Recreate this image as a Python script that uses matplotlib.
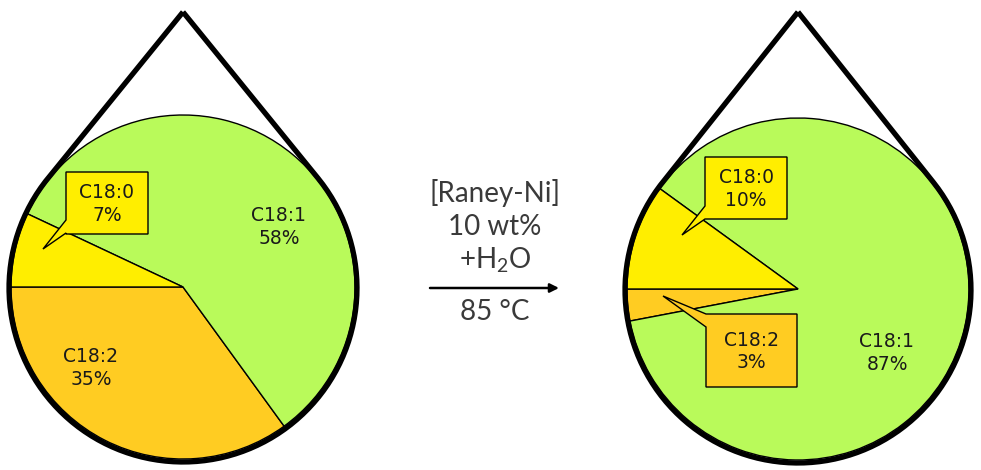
import numpy as np
import matplotlib.pyplot as plt
from matplotlib.patches import Polygon, PathPatch
from matplotlib.path import Path

# pie data (drawn from 180 deg, counter-clockwise)
fatty_acids = ['C18:2', 'C18:1', 'C18:0']
before_pct = [35, 58, 7]
after_pct = [3, 87, 10]
slice_colors = ['#FFCC22', '#B9FA5A', '#FFEE00']

# reaction conditions shown over/under the arrow
conditions_top = ['[Raney-Ni]', '10 wt%', '+H$_2$O']
conditions_bottom = '85 °C'

W, H = 981, 470

plt.rcParams['mathtext.fontset'] = 'custom'
plt.rcParams['mathtext.rm'] = 'Lato'
plt.rcParams['mathtext.it'] = 'Lato'
plt.rcParams['mathtext.default'] = 'rm'


def px(x, y):
    """pixel coords (y down) -> data coords (y up)"""
    return (x, H - y)


def droplet(ax, cx, cy, R, tip_y):
    c = np.array(px(cx, cy))
    tip = np.array(px(cx, tip_y))
    d = tip[1] - c[1]
    phi = np.degrees(np.arccos(R / d))
    ang = np.radians(np.linspace(90 + phi, 450 - phi, 200))
    pts = [tip] + [c + R * np.array([np.cos(a), np.sin(a)]) for a in ang] + [tip]
    ax.add_patch(PathPatch(Path(pts), fill=False, lw=3.8, ec='black',
                           joinstyle='miter', capstyle='butt', zorder=5))


def callout(ax, box, tail, color, text):
    x0, y0, x1, y1 = box
    tip, b_top, b_bot = tail
    verts = [px(x0, y0), px(x1, y0), px(x1, y1), px(x0, y1),
             px(x0, b_bot), px(*tip), px(x0, b_top)]
    ax.add_patch(Polygon(verts, closed=True, fc=color, ec='black', lw=1, zorder=6))
    ax.text(*px((x0 + x1) / 2, (y0 + y1) / 2 + 1), text, ha='center', va='center',
            fontsize=13.5, color='#1a1a1a', linespacing=1.25, zorder=7)


def pie_label(ax, x, y, text):
    ax.text(*px(x, y), text, ha='center', va='center', fontsize=13.5,
            color='#1a1a1a', linespacing=1.25, zorder=7)


fig = plt.figure(figsize=(W / 100, H / 100), dpi=100)
ax = fig.add_axes([0, 0, 1, 1])

wedge_style = dict(edgecolor='black', linewidth=1)
# left pie (before)
ax.pie(before_pct, colors=slice_colors, startangle=180, counterclock=True,
       center=px(183, 287), radius=172, wedgeprops=wedge_style)
# right pie (after)
ax.pie(after_pct, colors=slice_colors, startangle=180, counterclock=True,
       center=px(798, 289), radius=171, wedgeprops=wedge_style)

droplet(ax, 183, 288, 174, 12)
droplet(ax, 798, 290, 173, 12)

# labels, left
pie_label(ax, 279, 227, f'{fatty_acids[1]}\n{before_pct[1]}%')
pie_label(ax, 91, 368, f'{fatty_acids[0]}\n{before_pct[0]}%')
callout(ax, (66, 172, 148, 234), ((43, 249), 220, 233), slice_colors[2],
        f'{fatty_acids[2]}\n{before_pct[2]}%')

# labels, right
pie_label(ax, 887, 353, f'{fatty_acids[1]}\n{after_pct[1]}%')
callout(ax, (705, 157, 787, 219), ((682, 235), 206, 219), slice_colors[2],
        f'{fatty_acids[2]}\n{after_pct[2]}%')
callout(ax, (706, 314, 797, 387), ((663, 296), 314, 327), slice_colors[0],
        f'{fatty_acids[0]}\n{after_pct[0]}%')

# reaction arrow + conditions
for txt, y in zip(conditions_top, [193, 227, 260]):
    ax.text(*px(495, y), txt, ha='center', va='center', fontsize=20,
            family='Lato', color='#3a3a3a')
ax.annotate('', xy=px(559, 288), xytext=px(430, 288),
            arrowprops=dict(arrowstyle='-|>', color='black', lw=1.8,
                            mutation_scale=13, shrinkA=0, shrinkB=0))
ax.text(*px(495, 312), conditions_bottom, ha='center', va='center', fontsize=20,
        family='Lato', color='#3a3a3a')

ax.set_xlim(0, W)
ax.set_ylim(0, H)
ax.set_aspect('auto')
ax.axis('off')

plt.savefig('out.png', dpi=100)
